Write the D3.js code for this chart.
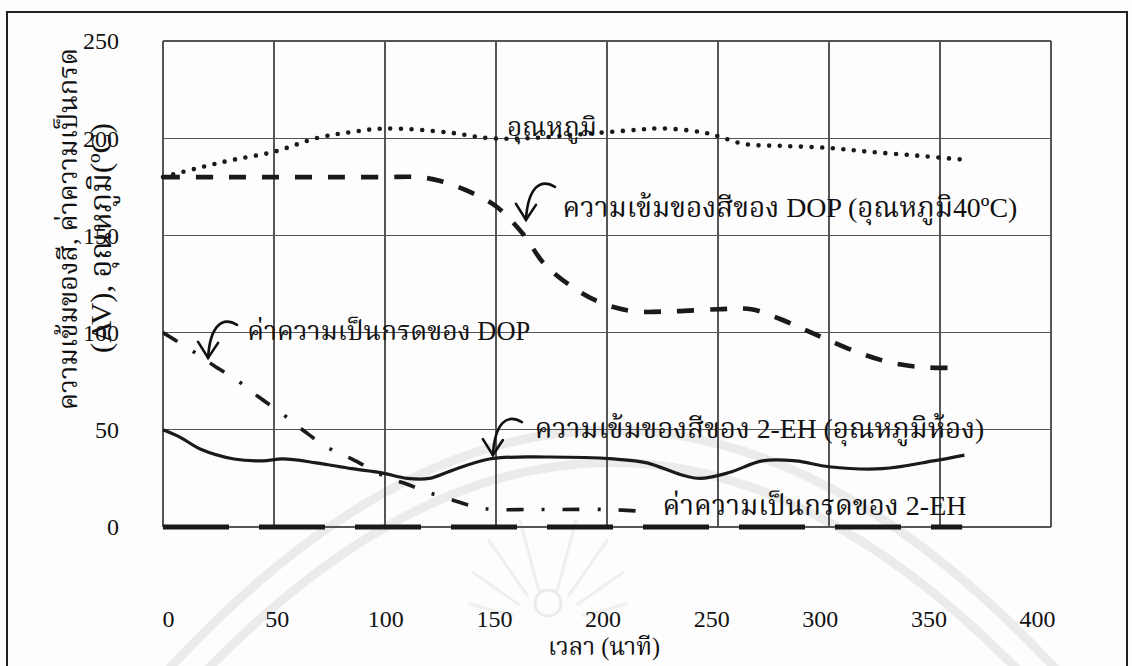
<!DOCTYPE html>
<html>
<head>
<meta charset="utf-8">
<script src="https://cdn.jsdelivr.net/npm/d3@7"></script>
<style>
  html, body { margin: 0; padding: 0; background: #fdfdfd; }
  svg { display: block; }
  text { font-family: "Liberation Serif", "Noto Serif Thai", "Noto Sans Thai", "Loma", "Garuda", "Norasi", "Tlwg Typo", serif; fill: #111; }
</style>
</head>
<body>
<svg id="chart" width="1132" height="666"></svg>
<script>
// ---------- data ----------
const xTicks = [0, 50, 100, 150, 200, 250, 300, 350, 400];
const yTicks = [0, 50, 100, 150, 200, 250];

// temperature (dotted)
const tempX = [0, 17, 32, 50, 69, 84, 100, 128, 147, 165, 188, 210, 225, 243, 250, 262, 280, 300, 318, 340, 360];
const tempY = [180, 185, 189, 193, 200, 203, 205, 203, 200, 200, 202, 204, 205, 203, 201, 197, 196, 195, 193, 191, 189];

// colour intensity of DOP, 40ºC (dashed)
const dopColX = [0, 25, 50, 75, 100, 115, 125, 137, 150, 162, 172, 185, 198, 212, 230, 250, 265, 278, 290, 300, 315, 330, 345, 360];
const dopColY = [180, 180, 180, 180, 180, 180, 178, 173, 165, 151, 135, 123, 115, 111, 111, 112, 112, 107, 101, 96, 89, 84, 82, 82];

// acid value of DOP (dash-dot)
const dopAcidX = [0, 14, 23, 34, 43, 54, 64, 74, 85, 100, 110, 119, 130, 142, 150, 165, 180, 200, 217];
const dopAcidY = [100, 90, 83, 75, 67, 58, 49, 41, 35, 26, 22, 18, 14, 10, 9, 9, 9, 9, 8];

// colour intensity of 2-EH, room temperature (solid)
const ehColX = [0, 8, 17, 32, 45, 54, 69, 85, 98, 110, 120, 130, 147, 173, 203, 218, 233, 242, 255, 270, 285, 300, 324, 347, 361];
const ehColY = [50, 46, 40, 35, 34, 35, 33, 30, 28, 25, 25, 29, 35, 36, 35, 33, 27, 25, 28, 34, 34, 31, 30, 34, 37];

// acid value of 2-EH (long dashes)
const ehAcidX = [0, 50, 100, 150, 200, 250, 300, 360];
const ehAcidY = [0, 0, 0, 0, 0, 0, 0, 0];

// annotation labels (data coordinates of start / vertical centre)
const labelText = ["อุณหภูมิ", "ความเข้มของสีของ DOP (อุณหภูมิ40ºC)", "ค่าความเป็นกรดของ DOP", "ความเข้มของสีของ 2-EH (อุณหภูมิห้อง)", "ค่าความเป็นกรดของ 2-EH"];
const labelX = [155, 180, 38, 167.5, 225];
const labelY = [206, 164.5, 101, 51, 11];
const labelEndX = [195.5, 385, 165.5, 370, 362];   // where each label ends (for width fitting)

// arrow tips (data coordinates)
const arrowX = [163.5, 20.3, 148.6];
const arrowY = [158, 87, 37];

const yTitle1 = "ความเข้มของสี, ค่าความเป็นกรด";
const yTitle2 = "(AV), อุณหภูมิ(ºC)";
const xTitle = "เวลา (นาที)";

// ---------- drawing ----------
const svg = d3.select("#chart");
const x = d3.scaleLinear().domain([0, 400]).range([163, 1051]);
const y = d3.scaleLinear().domain([0, 250]).range([527, 41]);
// tick labels in the scan sit on a slightly narrower span than the grid
const xLab = d3.scaleLinear().domain([0, 400]).range([168, 1037]);

function fitText(el, target, base) {
  const w = el.node().getComputedTextLength();
  if (w > 0) el.attr("font-size", Math.max(16, Math.min(32, base * target / w)));
}

// page background + faint watermark
svg.append("rect").attr("width", 1132).attr("height", 666).attr("fill", "#fdfdfd");
const wm = svg.append("g").attr("fill", "none").attr("stroke", "#ebebeb").attr("stroke-width", 9);
wm.append("path").attr("d", "M150,690 Q610,170 1075,690");
wm.append("path").attr("d", "M188,690 Q610,235 1037,690");
wm.append("circle").attr("cx", 548).attr("cy", 603).attr("r", 13).attr("stroke-width", 3);
[[-75, 0.75], [-55, 0.85], [-35, 0.95], [-15, 1], [15, 1], [35, 0.95], [55, 0.85], [75, 0.75]].forEach(([a, k]) => {
  const r = a * Math.PI / 180;
  wm.append("line")
    .attr("x1", 548 + 35 * Math.sin(r)).attr("y1", 625 - 35 * Math.cos(r))
    .attr("x2", 548 + 110 * k * Math.sin(r)).attr("y2", 625 - 110 * k * Math.cos(r))
    .attr("stroke-width", 3).attr("stroke", "#efefef");
});

// outer frame
svg.append("rect").attr("x", 7).attr("y", 12).attr("width", 1120).attr("height", 700)
  .attr("fill", "none").attr("stroke", "#222").attr("stroke-width", 2);

// grid
const grid = svg.append("g").attr("stroke", "#555").attr("stroke-width", 1.1).attr("shape-rendering", "crispEdges");
grid.selectAll("line.v").data(xTicks).join("line").attr("class", "v")
  .attr("x1", d => x(d)).attr("x2", d => x(d)).attr("y1", y(0)).attr("y2", y(250));
grid.selectAll("line.h").data(yTicks).join("line").attr("class", "h")
  .attr("x1", x(0)).attr("x2", x(400)).attr("y1", d => y(d)).attr("y2", d => y(d));

// axes (labels only)
const gx = svg.append("g").attr("transform", "translate(0,619)")
  .call(d3.axisBottom(xLab).tickValues(xTicks).tickSize(0).tickFormat(d3.format("d")));
gx.select(".domain").remove();
gx.selectAll("text").attr("y", 0).attr("dy", "0.35em").attr("font-size", 24)
  .attr("font-family", "Liberation Serif").attr("fill", "#111");

const gy = svg.append("g").attr("transform", "translate(119,0)")
  .call(d3.axisLeft(y).tickValues(yTicks).tickSize(0).tickFormat(d3.format("d")));
gy.select(".domain").remove();
gy.selectAll("text").attr("x", 0).attr("dy", "0.33em").attr("font-size", 24)
  .attr("font-family", "Liberation Serif").attr("fill", "#111");

// series
const zip = (a, b) => a.map((v, i) => [v, b[i]]);
const smooth = d3.line().x(d => x(d[0])).y(d => y(d[1])).curve(d3.curveCatmullRom.alpha(0.5));
const straight = d3.line().x(d => x(d[0])).y(d => y(d[1]));
const g = svg.append("g").attr("fill", "none");

g.append("path").datum(zip(ehAcidX, ehAcidY)).attr("d", straight)
  .attr("stroke", "#1a1a1a").attr("stroke-width", 5).attr("stroke-dasharray", "66 30");

g.append("path").datum(zip(ehColX, ehColY)).attr("d", smooth)
  .attr("stroke", "#1a1a1a").attr("stroke-width", 3.2);

g.append("path").datum(zip(dopAcidX, dopAcidY)).attr("d", smooth)
  .attr("stroke", "#1a1a1a").attr("stroke-width", 3.6).attr("stroke-dasharray", "17 18 3 18");

g.append("path").datum(zip(dopColX, dopColY)).attr("d", smooth)
  .attr("stroke", "#1a1a1a").attr("stroke-width", 4.6).attr("stroke-dasharray", "17 16");

g.append("path").datum(zip(tempX, tempY)).attr("d", smooth)
  .attr("stroke", "#1a1a1a").attr("stroke-width", 4.6).attr("stroke-linecap", "round")
  .attr("stroke-dasharray", "0 10.6");

// annotation labels
const labs = svg.append("g");
labelText.forEach((t, i) => {
  const el = labs.append("text").attr("x", x(labelX[i])).attr("y", y(labelY[i]))
    .attr("dy", "0.35em").attr("font-size", 26).text(t);
  fitText(el, x(labelEndX[i]) - x(labelX[i]), 26);
});

// curved arrows
const arr = svg.append("g").attr("fill", "none").attr("stroke", "#111").attr("stroke-width", 2.6)
  .attr("stroke-linecap", "round");
arrowX.forEach((ax, i) => {
  const tx = x(ax), ty = y(arrowY[i]);
  arr.append("path").attr("d", `M${tx + 29},${ty - 33} C${tx + 14},${ty - 42} ${tx + 2},${ty - 32} ${tx},${ty}`);
  arr.append("path").attr("d", `M${tx - 10},${ty - 16} L${tx},${ty} L${tx + 10},${ty - 15}`);
});

// axis titles
const yt = svg.append("g");
const t1 = yt.append("text").attr("transform", "translate(68,229) rotate(-90)").attr("text-anchor", "middle")
  .attr("dy", "0.35em").attr("font-size", 26).text(yTitle1);
fitText(t1, 362, 26);
const t2 = yt.append("text").attr("transform", "translate(100,238) rotate(-90)").attr("text-anchor", "middle")
  .attr("dy", "0.35em").attr("font-size", 26).text(yTitle2);
fitText(t2, 230, 26);
const xt = svg.append("text").attr("x", 604).attr("y", 647).attr("text-anchor", "middle")
  .attr("dy", "0.35em").attr("font-size", 21).text(xTitle);
fitText(xt, 112, 21);
</script>
</body>
</html>
